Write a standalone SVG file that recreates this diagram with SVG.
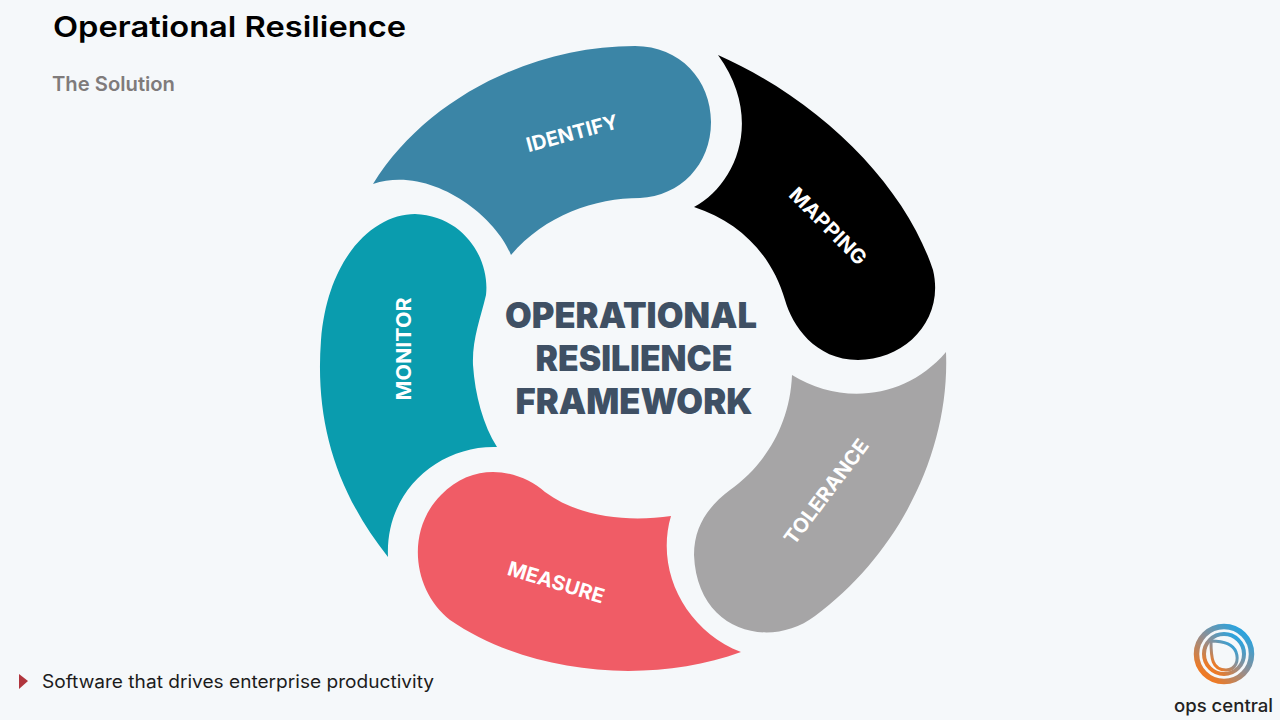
<svg xmlns="http://www.w3.org/2000/svg" width="1280" height="720" viewBox="0 0 1280 720">
<style>
.seg{font-family:Inter,"Liberation Sans",sans-serif;font-weight:700;font-size:20px;fill:#fff;text-anchor:middle}
.ctr{font-family:Inter,"Liberation Sans",sans-serif;font-weight:900;font-size:35px;fill:#3f5064;text-anchor:middle}
.ring{fill:none;stroke:url(#lg)}
</style>
<defs>
<linearGradient id="lg" x1="0.85" y1="0.1" x2="0.2" y2="0.9"><stop offset="0" stop-color="#2aa3de"/><stop offset="0.5" stop-color="#8f8f94"/><stop offset="1" stop-color="#ee7a25"/></linearGradient>
</defs>
<rect width="1280" height="720" fill="#f5f8fa"/>
<text x="53" y="37" font-family="Inter,'Liberation Sans',sans-serif" font-weight="600" font-size="29" fill="#000" textLength="353" lengthAdjust="spacingAndGlyphs">Operational Resilience</text>
<text x="52" y="91" font-family="Inter,'Liberation Sans',sans-serif" font-weight="600" font-size="20" fill="#7f7b7b" textLength="123" lengthAdjust="spacingAndGlyphs">The Solution</text>
<g id="identify">
<path fill="#3b85a6" d="M373 184C425 100 530 46 635 46C680 46 711 80 711 122C711 165 680 196 640 198C595 198 545 215 511 255C495 215 430 165 373 184Z"/>
<text class="seg" transform="translate(574 140) rotate(-15)" textLength="94" lengthAdjust="spacingAndGlyphs">IDENTIFY</text>
</g>
<g id="mapping">
<path fill="#000" d="M718 55C820 100 905 185 933 270C945 320 905 360 858 360C815 360 792 325 785 300C772 255 740 222 694 207C735 185 765 120 718 55Z"/>
<text class="seg" transform="translate(823 231) rotate(45)" textLength="100" lengthAdjust="spacingAndGlyphs">MAPPING</text>
</g>
<g id="tolerance">
<path fill="#a6a5a6" d="M946 352C950 450 900 553 815 616C770 650 697 632 694 555C694 525 710 505 730 490C765 465 790 425 792 375C840 405 905 400 946 352Z"/>
<text class="seg" transform="translate(832 496) rotate(-53)" textLength="126" lengthAdjust="spacingAndGlyphs">TOLERANCE</text>
</g>
<g id="measure">
<path fill="#f05c66" d="M741 652C650 685 530 675 450 620C412 590 406 530 441 495C475 460 520 470 545 492C580 518 630 522 671 516C655 570 685 630 741 652Z"/>
<text class="seg" transform="translate(554 589) rotate(17)" textLength="100" lengthAdjust="spacingAndGlyphs">MEASURE</text>
</g>
<g id="monitor">
<path fill="#0a9cae" d="M388 557C335 490 315 420 321 340C328 255 375 214 415 214C465 216 490 260 486 295C480 320 472 340 473 365C475 395 483 425 497 447C440 445 385 490 388 557Z"/>
<text class="seg" transform="translate(411 349) rotate(-90)" textLength="103" lengthAdjust="spacingAndGlyphs">MONITOR</text>
</g>
<g id="center">
<text class="ctr" x="631" y="328" textLength="252" lengthAdjust="spacingAndGlyphs">OPERATIONAL</text>
<text class="ctr" x="634" y="371" textLength="197" lengthAdjust="spacingAndGlyphs">RESILIENCE</text>
<text class="ctr" x="634" y="414" textLength="237" lengthAdjust="spacingAndGlyphs">FRAMEWORK</text>
</g>
<g id="footer">
<polygon points="19,674 28,681 19,689" fill="#b0353d"/>
<text x="42" y="688" font-family="Inter,'Liberation Sans',sans-serif" font-weight="400" font-size="18" fill="#1c1c1c" textLength="392" lengthAdjust="spacingAndGlyphs">Software that drives enterprise productivity</text>
</g>
<g id="logo">
<circle class="ring" cx="1224" cy="654" r="27.5" stroke-width="5.5"/>
<circle class="ring" cx="1224" cy="654" r="20" stroke-width="4"/>
<path class="ring" stroke-width="3" d="M1211 641C1211 658 1212 670 1226 670C1236 670 1239 660 1236 652C1233 644 1222 641 1211 641Z"/>
<text x="1174" y="712" font-family="Inter,'Liberation Sans',sans-serif" font-weight="500" font-size="18" fill="#222" textLength="99" lengthAdjust="spacingAndGlyphs">ops central</text>
</g>
</svg>
